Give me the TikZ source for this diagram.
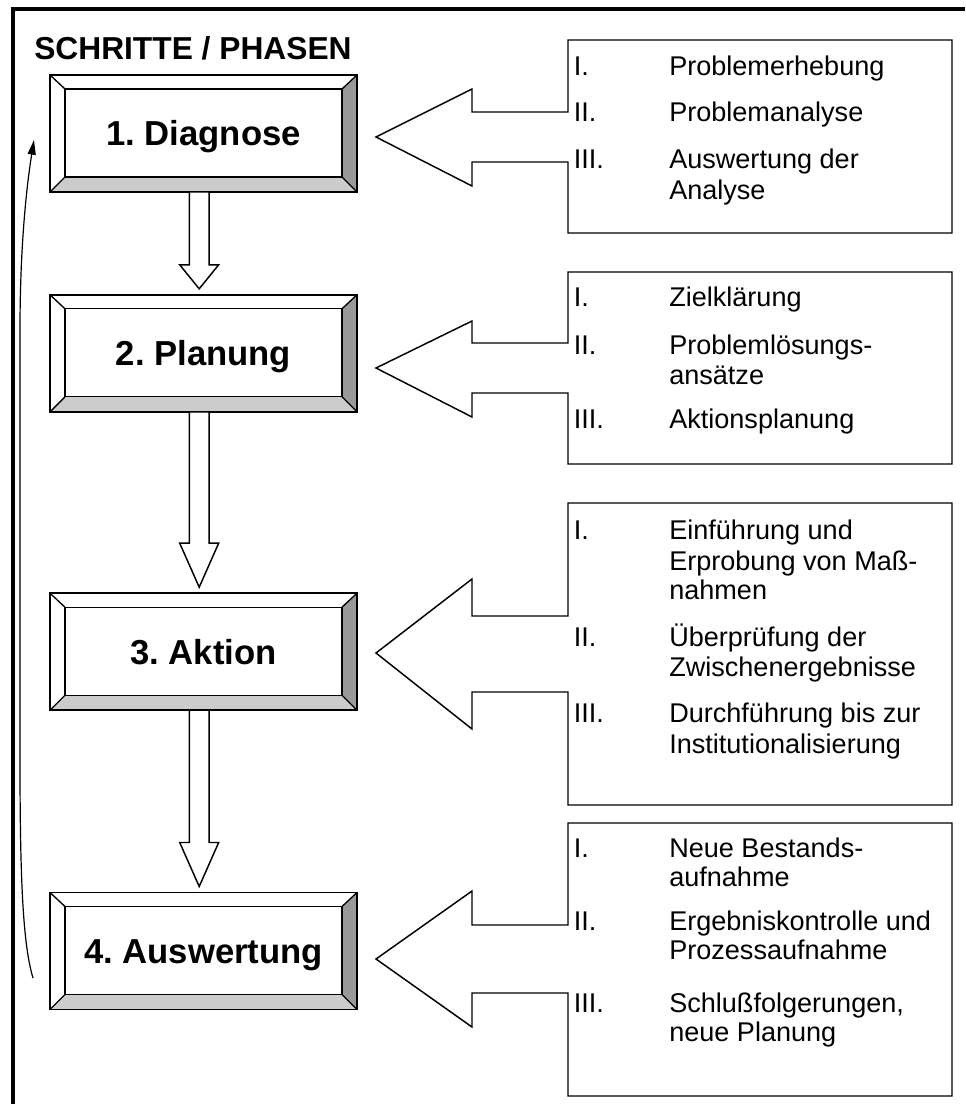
\documentclass[tikz,border=0pt]{standalone}
\usepackage{fontspec}
\setmainfont{Liberation Sans}
\usetikzlibrary{calc,arrows.meta}
\frenchspacing

% one list line in a callout box
\newcommand\listline[3]{\node[itemtext] (#1) at (669,#2) {#3};}
\newcommand\listnum[3]{\node[itemtext] (#1) at (573.5,#2) {#3};}

% callout box with a left-pointing arrow:
% #1 name, #2 top, #3 bottom, #4 shaft top, #5 shaft bottom, #6 head top, #7 head bottom, #8 tip y
\newcommand\calloutbox[8]{%
  \coordinate (#1-tip) at (376,#8);
  \draw[calloutshape] (568,#2) -- (952,#2) -- (952,#3) -- (568,#3) -- (568,#5)
    -- (472,#5) -- (472,#7) -- (#1-tip) -- (472,#6) -- (472,#4) -- (568,#4) -- cycle;}

% hollow block arrow from one phase box down to the next; #3 = head length
\newcommand\flowdown[3]{%
  \draw[flowarrow] let \p1=($(#1.south)+(-4.3,0)$), \p2=(#2.north) in
    (\x1-7.4pt,\y1) -- (\x1-7.4pt,\y2+4.5pt+#3) -- (\x1-14.6pt,\y2+4.5pt+#3)
    -- (\x1,\y2+4.5pt) -- (\x1+14.6pt,\y2+4.5pt+#3) -- (\x1+7.4pt,\y2+4.5pt+#3)
    -- (\x1+7.4pt,\y1) -- cycle;}

\begin{document}
\begin{tikzpicture}[x=0.75pt,y=-0.75pt,
  frameline/.style={line width=2.8pt},
  phase/.style={draw, line width=1.3pt, fill=white,
    minimum width=230.25pt, minimum height=87.75pt, inner sep=0pt, outer sep=0pt,
    font=\fontsize{26}{30}\selectfont\bfseries, text height=18.6pt, text depth=0pt,
    path picture={
      \path (path picture bounding box.north west) coordinate (bNW)
            (path picture bounding box.north east) coordinate (bNE)
            (path picture bounding box.south east) coordinate (bSE)
            (path picture bounding box.south west) coordinate (bSW);
      \path ($(bNW)+(15,14)$) coordinate (iNW) ($(bNE)+(-15,14)$) coordinate (iNE)
            ($(bSE)+(-15,-15)$) coordinate (iSE) ($(bSW)+(15,-15)$) coordinate (iSW);
      \fill[black!40] (bNE) -- (bSE) -- (iSE) -- (iNE) -- cycle;
      \fill[black!20] (bSW) -- (bSE) -- (iSE) -- (iSW) -- cycle;
      \draw[line width=1pt] (iNW) rectangle (iSE);
      \draw[line width=1pt] (bNW) -- (iNW) (bNE) -- (iNE) (bSE) -- (iSE) (bSW) -- (iSW);
    }},
  calloutshape/.style={draw, fill=white, line width=1.1pt, line join=miter},
  flowarrow/.style={draw, fill=white, line width=1.1pt, line join=miter},
  itemtext/.style={anchor=base west, inner sep=0pt, font=\fontsize{20.3}{23}\selectfont},
  looparrow/.style={line width=0.9pt, -{Triangle[length=11pt,width=6pt]}},
]
\useasboundingbox (0,0) rectangle (965,1104);

% outer frame (left and top edges)
\draw[frameline] (13,1104) -- (13,9) -- (965,9);

% heading
\node[anchor=base west, inner sep=0pt, font=\fontsize{23.8}{28}\selectfont\bfseries] (title) at (34,59) {SCHRITTE / PHASEN};

% phase boxes
\node[phase] (d1) at (203.5,133.5) {1. Diagnose};
\node[phase] (d2) at (203.5,353.3) {2. Planung};
\node[phase] (d3) at (203.5,651.7) {3. Aktion};
\node[phase] (d4) at (203.5,951) {4. Auswertung};

% arrows between the phases
\flowdown{d1}{d2}{18pt}
\flowdown{d2}{d3}{33pt}
\flowdown{d3}{d4}{33pt}

% feedback loop from the last phase back to the first
\coordinate (loopS) at (33,978);
\coordinate (loopE) at (34,140);
\draw[looparrow] (loopS) .. controls (23,945) and (20,880) .. (20,760)
  -- (20,330) .. controls (20,250) and (26,190) .. (loopE);

% callouts with the sub-steps
\calloutbox{c1}{40}{233}{112}{162}{89}{186}{137}
\listnum{c1n1}{75}{I.}      \listline{c1a}{75}{Problemerhebung}
\listnum{c1n2}{121.7}{II.}  \listline{c1b}{121.7}{Problemanalyse}
\listnum{c1n3}{168.3}{III.} \listline{c1c}{168.3}{Auswertung der}
                            \listline{c1d}{199.3}{Analyse}

\calloutbox{c2}{272}{464}{343}{393}{321}{417}{368}
\listnum{c2n1}{306.7}{I.}   \listline{c2a}{306.7}{Zielklärung}
\listnum{c2n2}{354}{II.}    \listline{c2b}{354}{Problemlösungs-}
                            \listline{c2c}{384}{ansätze}
\listnum{c2n3}{428.3}{III.} \listline{c2d}{428.3}{Aktionsplanung}

\calloutbox{c3}{503}{805}{616}{692}{579}{729}{653}
\listnum{c3n1}{539}{I.}     \listline{c3a}{539}{Einführung und}
                            \listline{c3b}{570}{Erprobung von Maß-}
                            \listline{c3c}{599.5}{nahmen}
\listnum{c3n2}{646.7}{II.}  \listline{c3d}{646.7}{Überprüfung der}
                            \listline{c3e}{676.5}{Zwischenergebnisse}
\listnum{c3n3}{722.7}{III.} \listline{c3f}{722.7}{Durchführung bis zur}
                            \listline{c3g}{753.3}{Institutionalisierung}

\calloutbox{c4}{823}{1096}{925}{993}{891}{1027}{959}
\listnum{c4n1}{857.5}{I.}   \listline{c4a}{857.5}{Neue Bestands-}
                            \listline{c4b}{886.5}{aufnahme}
\listnum{c4n2}{930}{II.}    \listline{c4c}{930}{Ergebniskontrolle und}
                            \listline{c4d}{959}{Prozessaufnahme}
\listnum{c4n3}{1012}{III.}  \listline{c4e}{1012}{Schlußfolgerungen,}
                            \listline{c4f}{1041}{neue Planung}
\end{tikzpicture}
\end{document}
